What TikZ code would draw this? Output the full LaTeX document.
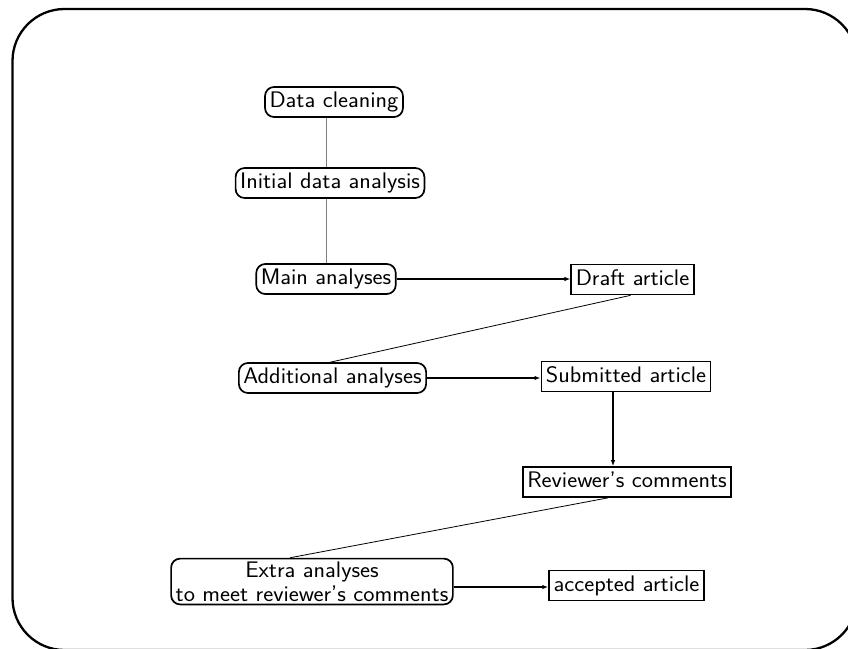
\documentclass[tikz,border=0pt]{standalone}
\usepackage{fontspec}
\newfontfamily\labfont[FakeStretch=1.06,Ligatures=TeX]{Latin Modern Sans}
\usetikzlibrary{arrows.meta}
\begin{document}
\begin{tikzpicture}[x=1pt,y=-1pt,
  every node/.style={font=\labfont\fontsize{22.5}{24}\selectfont, inner xsep=4.5pt, inner ysep=4.5pt, line width=1.7pt},
  onel/.style={text height=16pt, text depth=5pt},
  rbox/.style={draw, rounded corners=9pt},
  sbox/.style={draw},
  thinline/.style={line width=0.8pt, gray},
  link/.style={line width=0.8pt, black},
  arr/.style={line width=1.7pt, -{Latex[length=6pt,width=4.5pt]}}]
\useasboundingbox (0,0) rectangle (848,648);
\begin{scope}
\clip (0,0) rectangle (848,648);
\draw[line width=2.3pt, rounded corners=52pt] (12.5,9) rectangle (857,650);
\end{scope}
\node[rbox, onel] (dc) at (334,102) {Data cleaning};
\node[rbox, onel] (ida) at (330,183) {Initial data analysis};
\node[rbox, onel] (ma) at (326,279) {Main analyses};
\node[sbox, onel] (da) at (632.5,279.5) {Draft article};
\node[rbox, onel] (aa) at (332.5,378) {Additional analyses};
\node[sbox, onel] (sa) at (626,376.5) {Submitted article};
\node[sbox, onel] (rev) at (627,482) {Reviewer’s comments};
\node[rbox, align=center, inner ysep=3pt] (ex) at (312,581.5) {Extra analyses\\to meet reviewer’s comments};
\node[sbox, onel] (acc) at (626.5,585.5) {accepted article};
\coordinate (vx) at (326.5,0);
\draw[thinline] (dc.south -| vx) -- (ida.north -| vx);
\draw[thinline] (ida.south -| vx) -- (ma.north -| vx);
\draw[arr] (ma.east) -- (ma.east -| da.west);
\draw[link] ([xshift=-2pt]da.south) -- ([xshift=-2pt]aa.north);
\draw[arr] (aa.east) -- (aa.east -| sa.west);
\coordinate (ax) at (613,0);
\draw[arr] (sa.south -| ax) -- (rev.north -| ax);
\draw[link] ([xshift=-19pt]rev.south) -- ([xshift=-22pt]ex.north);
\coordinate (ay) at (0,587);
\draw[arr] (ex.east |- ay) -- (acc.west |- ay);
\end{tikzpicture}
\end{document}
